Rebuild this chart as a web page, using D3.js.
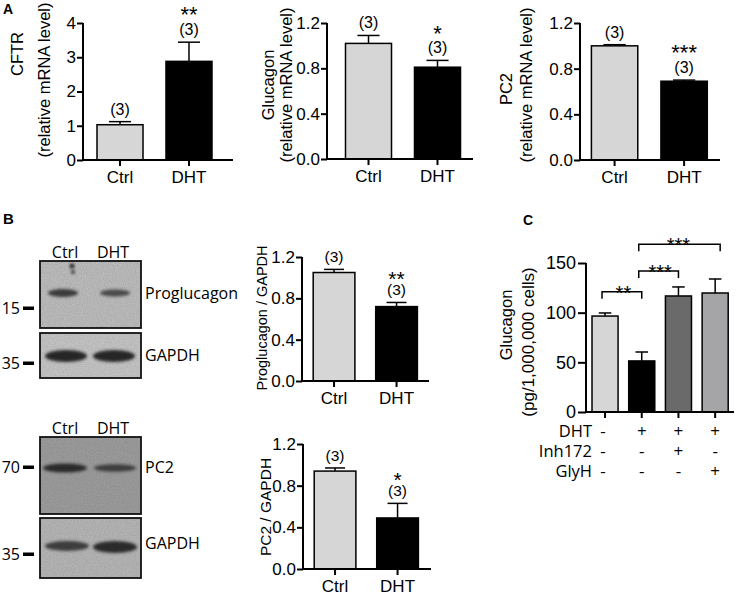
<!DOCTYPE html>
<html><head><meta charset="utf-8">
<script src="https://cdn.jsdelivr.net/npm/d3@7"></script>
<style>
body{margin:0;background:#fff}
svg text{font-family:"Liberation Sans",Arial,sans-serif;fill:#000}
</style>
</head><body>
<svg id="fig" width="737" height="596"></svg>
<script>
// ---------------- DATA ----------------
const groups = ["Ctrl", "DHT"];
const nLabels = ["(3)", "(3)"];
const cftrMean = [1.03, 2.88], cftrErr = [0.09, 0.56], cftrSig = ["", "**"];
const glucMean = [1.02, 0.81], glucErr = [0.07, 0.06], glucSig = ["", "*"];
const pc2Mean = [1.00, 0.69], pc2Err = [0.01, 0.01], pc2Sig = ["", "***"];
const proglucRatio = [1.05, 0.72], proglucRatioErr = [0.03, 0.04], proglucSig = ["", "**"];
const pc2Ratio = [0.94, 0.49], pc2RatioErr = [0.03, 0.14], pc2RatioSig = ["", "*"];
const ticksCftr = [0, 1, 2, 3, 4];
const ticksRel = [0, 0.4, 0.8, 1.2];

const cGroups = ["g1", "g2", "g3", "g4"];
const cMean = [96.6, 51.4, 116.8, 119.8];
const cErr = [3.1, 9.0, 9.1, 14.1];
const ticksC = [0, 50, 100, 150];
const cRowLabels = ["DHT", "Inh172", "GlyH"];
const cRowDHT = ["-", "+", "+", "+"];
const cRowInh = ["-", "-", "+", "-"];
const cRowGly = ["-", "-", "-", "+"];
const cBrackets = [
  {from: 0, to: 1, level: 121, label: "**"},
  {from: 1, to: 2, level: 142, label: "***"},
  {from: 1, to: 3, level: 169, label: "***"}
];

// ---------------- STYLE ----------------
const ctrlFill = "#d6d6d6";
const cFills = ["#d6d6d6", "#000000", "#6a6a6a", "#a5a5a8"];
const svg = d3.select("#fig");
svg.append("rect").attr("width", 737).attr("height", 596).attr("fill", "#fff");

const defs = svg.append("defs");
const blur = defs.append("filter").attr("id", "blur").attr("x", "-30%").attr("y", "-80%").attr("width", "160%").attr("height", "260%");
blur.append("feGaussianBlur").attr("stdDeviation", 1.6);
const noise = defs.append("filter").attr("id", "noise").attr("x", 0).attr("y", 0).attr("width", 1).attr("height", 1);
noise.append("feTurbulence").attr("type", "fractalNoise").attr("baseFrequency", 0.9).attr("numOctaves", 2).attr("seed", 4);
noise.append("feColorMatrix").attr("type", "matrix").attr("values", "0 0 0 0 0  0 0 0 0 0  0 0 0 0 0  0 0 0 0.35 0");

function barPanel(p) {
  const g = svg.append("g");
  const x = d3.scaleBand().domain(p.cats).range(p.band).paddingInner(p.pi ?? 0.333).paddingOuter(p.po ?? 0.2);
  const y = d3.scaleLinear().domain([0, p.yMax]).range([p.y0, p.y1]);
  const bw = x.bandwidth();
  const eb = g.selectAll("g.eb").data(p.means).join("g");
  eb.append("line")
    .attr("x1", (d, i) => x(p.cats[i]) + bw / 2).attr("x2", (d, i) => x(p.cats[i]) + bw / 2)
    .attr("y1", d => y(d)).attr("y2", (d, i) => y(d + p.errs[i]))
    .attr("stroke", "#000").attr("stroke-width", 1.5);
  eb.append("line")
    .attr("x1", (d, i) => x(p.cats[i]) + bw / 2 - bw * 0.24).attr("x2", (d, i) => x(p.cats[i]) + bw / 2 + bw * 0.24)
    .attr("y1", (d, i) => y(d + p.errs[i])).attr("y2", (d, i) => y(d + p.errs[i]))
    .attr("stroke", "#000").attr("stroke-width", 1.5);
  g.selectAll("rect.bar").data(p.means).join("rect").attr("class", "bar")
    .attr("x", (d, i) => x(p.cats[i])).attr("y", d => y(d))
    .attr("width", bw).attr("height", d => y(0) - y(d))
    .attr("fill", (d, i) => p.fills[i]).attr("stroke", "#000").attr("stroke-width", 1.5);
  const ya = g.append("g").attr("transform", `translate(${p.axisX},0)`)
    .call(d3.axisLeft(y).tickValues(p.ticks).tickFormat(p.fmt).tickSize(p.tickLen || 6).tickSizeOuter(0).tickPadding(p.tickPad ?? 1));
  ya.select(".domain").attr("stroke-width", 2).attr("d", `M0,${y(0) + 1}V${y(p.yMax)}`);
  ya.selectAll(".tick line").attr("stroke-width", 2);
  ya.selectAll(".tick text").attr("font-size", p.tickFont || 17).attr("font-family", '"Liberation Sans",Arial,sans-serif');
  g.append("line").attr("x1", p.axisX - 1).attr("x2", p.axisEnd).attr("y1", y(0)).attr("y2", y(0))
    .attr("stroke", "#000").attr("stroke-width", 2);
  const xa = g.append("g").attr("transform", `translate(0,${y(0)})`)
    .call(d3.axisBottom(x).tickSize(6).tickSizeOuter(0).tickPadding(5).tickFormat(p.xFmt || (d => d)));
  xa.select(".domain").remove();
  xa.selectAll(".tick line").attr("stroke-width", 2);
  xa.selectAll(".tick text").attr("font-size", 17).attr("font-family", '"Liberation Sans",Arial,sans-serif');
  if (p.nLab) {
    g.selectAll("text.n").data(p.means).join("text").attr("class", "n")
      .attr("x", (d, i) => x(p.cats[i]) + bw / 2).attr("y", (d, i) => y(d + p.errs[i]) - 7)
      .attr("text-anchor", "middle").attr("font-size", p.nFont || 16).text((d, i) => p.nLab[i]);
  }
  if (p.sig) {
    g.selectAll("text.sig").data(p.means).join("text").attr("class", "sig")
      .attr("x", (d, i) => x(p.cats[i]) + bw / 2).attr("y", (d, i) => y(d + p.errs[i]) - 7 - p.sigDy)
      .attr("text-anchor", "middle").attr("font-size", p.sigFont || 22).text((d, i) => p.sig[i]);
  }
  p.ylab.forEach(l => {
    g.append("text").attr("transform", `translate(${l.x},${l.y}) rotate(-90)`)
      .attr("text-anchor", "middle").attr("font-size", l.size).text(l.text);
  });
  return {x, y, g};
}

const fmt1 = d3.format(".1f");

// ---------------- PANEL A ----------------
barPanel({cats: groups, means: cftrMean, errs: cftrErr, nLab: nLabels, sig: cftrSig, sigDy: 13,
  fills: [ctrlFill, "#000"], band: [83.2, 225.8], axisX: 83, axisEnd: 233, y0: 160, y1: 23, yMax: 4,
  ticks: ticksCftr, fmt: d3.format("d"),
  ylab: [{x: 23, y: 54, size: 16.5, text: "CFTR"}, {x: 50, y: 80, size: 16.5, text: "(relative mRNA level)"}]});
barPanel({cats: groups, means: glucMean, errs: glucErr, nLab: nLabels, sig: glucSig, sigDy: 12,
  fills: [ctrlFill, "#000"], band: [331.7, 474.3], axisX: 327, axisEnd: 473, y0: 159, y1: 23, yMax: 1.2,
  ticks: ticksRel, fmt: fmt1,
  ylab: [{x: 274, y: 85, size: 16.5, text: "Glucagon"}, {x: 292, y: 85, size: 16.5, text: "(relative mRNA level)"}]});
barPanel({cats: groups, means: pc2Mean, errs: pc2Err, nLab: nLabels, sig: pc2Sig, sigDy: 13,
  fills: [ctrlFill, "#000"], band: [577.5, 721.2], axisX: 580, axisEnd: 720, y0: 160, y1: 23, yMax: 1.2,
  ticks: ticksRel, fmt: fmt1,
  ylab: [{x: 512, y: 89, size: 16.5, text: "PC2"}, {x: 532, y: 85, size: 16.5, text: "(relative mRNA level)"}]});

// ---------------- PANEL B charts ----------------
barPanel({cats: groups, means: proglucRatio, errs: proglucRatioErr, nLab: nLabels, sig: proglucSig, sigDy: 9,
  nFont: 15.5, sigFont: 21,
  fills: [ctrlFill, "#000"], band: [300.7, 429.9], axisX: 302, axisEnd: 429, y0: 381, y1: 257, yMax: 1.2,
  ticks: ticksRel, fmt: fmt1,
  ylab: [{x: 267, y: 318, size: 14.5, text: "Proglucagon / GAPDH"}]});
barPanel({cats: groups, means: pc2Ratio, errs: pc2RatioErr, nLab: nLabels, sig: pc2RatioSig, sigDy: 9,
  nFont: 15.5, sigFont: 21,
  fills: [ctrlFill, "#000"], band: [301.7, 430.9], axisX: 303, axisEnd: 431, y0: 569, y1: 444, yMax: 1.2,
  ticks: ticksRel, fmt: fmt1,
  ylab: [{x: 271, y: 507, size: 15.5, text: "PC2 / GAPDH"}]});

// ---------------- PANEL C ----------------
const pc = barPanel({cats: cGroups, means: cMean, errs: cErr, fills: cFills, pi: 0.29, po: 0.15,
  band: [586.5, 733.7], axisX: 586, axisEnd: 734, y0: 412, y1: 263, yMax: 150,
  ticks: ticksC, fmt: d3.format("d"), tickLen: 8, tickPad: 2, tickFont: 18, xFmt: () => "",
  ylab: [{x: 512, y: 325, size: 16.5, text: "Glucagon"}, {x: 534, y: 342, size: 17, text: "(pg/1,000,000 cells)"}]});
{
  const x = pc.x, y = pc.y, bw = x.bandwidth();
  const cx = i => x(cGroups[i]) + bw / 2;
  const bg = pc.g.selectAll("g.br").data(cBrackets).join("g");
  bg.append("path").attr("fill", "none").attr("stroke", "#000").attr("stroke-width", 1.5)
    .attr("d", d => `M${cx(d.from) - 3},${y(d.level) + 7}V${y(d.level)}H${cx(d.to) + (d.to === 3 ? 5 : 0)}V${y(d.level) + 7}`);
  bg.append("text").attr("x", d => (cx(d.from) + cx(d.to)) / 2).attr("y", d => y(d.level) + 8)
    .attr("text-anchor", "middle").attr("font-size", 20).text(d => d.label);
  const rows = [cRowDHT, cRowInh, cRowGly];
  const rowY = [437, 457, 477];
  rows.forEach((r, k) => {
    pc.g.append("text").attr("x", 592).attr("y", rowY[k]).attr("text-anchor", "end")
      .attr("font-size", 16.5).style("font-family", '"Open Sans",sans-serif').text(cRowLabels[k]);
    pc.g.selectAll(null).data(r).join("text").attr("x", (d, i) => cx(i) - (i === 0 ? 2 : 0)).attr("y", rowY[k])
      .attr("text-anchor", "middle").attr("font-size", 17).style("font-family", '"Open Sans",sans-serif').text(d => d);
  });
}

// ---------------- PANEL B blots ----------------
function blot(x0, y0, w, h, bgColor, bands) {
  const g = svg.append("g");
  g.append("rect").attr("x", x0).attr("y", y0).attr("width", w).attr("height", h).attr("fill", bgColor);
  g.append("rect").attr("x", x0).attr("y", y0).attr("width", w).attr("height", h).attr("filter", "url(#noise)").attr("opacity", 0.45);
  bands.forEach(b => {
    g.append("ellipse").attr("cx", b.cx).attr("cy", b.cy).attr("rx", b.rx).attr("ry", b.ry)
      .attr("fill", b.c).attr("filter", "url(#blur)");
  });
  g.append("rect").attr("x", x0).attr("y", y0).attr("width", w).attr("height", h)
    .attr("fill", "none").attr("stroke", "#111").attr("stroke-width", 1.8);
  return g;
}
const blotFont = '"Open Sans",sans-serif';
function bt(x, y, s, anchor, size) {
  svg.append("text").attr("x", x).attr("y", y).attr("text-anchor", anchor || "start")
    .attr("font-size", size || 16).style("font-family", blotFont).text(s);
}
function marker(y, label) {
  bt(20, y + 6, label, "end", 16);
  svg.append("rect").attr("x", 23).attr("y", y - 1.5).attr("width", 11).attr("height", 3.5).attr("fill", "#000");
}
blot(40, 261, 101, 67, "#c4c4c4", [
  {cx: 63, cy: 293, rx: 15, ry: 4, c: "#3a3a3a"},
  {cx: 115, cy: 293, rx: 15, ry: 3.6, c: "#4a4a4a"},
  {cx: 72, cy: 266, rx: 2.5, ry: 2.5, c: "#222"},
  {cx: 73, cy: 272, rx: 2, ry: 2, c: "#333"}
]);
blot(40, 333, 101, 45, "#cdcdcd", [
  {cx: 66, cy: 356, rx: 21, ry: 6, c: "#262626"},
  {cx: 114, cy: 356, rx: 21, ry: 6, c: "#262626"}
]);
bt(65, 258, "Ctrl", "middle"); bt(113, 258, "DHT", "middle");
bt(145, 299, "Proglucagon"); bt(145, 361, "GAPDH");
marker(308, "15"); marker(363, "35");
blot(40, 437, 101, 77, "#a3a3a3", [
  {cx: 65, cy: 468, rx: 22, ry: 4.5, c: "#2a2a2a"},
  {cx: 115, cy: 468, rx: 21, ry: 3.8, c: "#3c3c3c"}
]);
blot(40, 518, 101, 60, "#bdbdbd", [
  {cx: 67, cy: 546, rx: 22, ry: 5, c: "#3c3c3c"},
  {cx: 115, cy: 547, rx: 22, ry: 6, c: "#2a2a2a"}
]);
bt(65, 434, "Ctrl", "middle"); bt(113, 434, "DHT", "middle");
bt(145, 473, "PC2"); bt(145, 549, "GAPDH");
marker(467, "70"); marker(554, "35");

[["A", 3, 14, 14], ["B", 3, 224, 15], ["C", 523, 225, 14]].forEach(([s, x, y, f]) =>
  svg.append("text").attr("x", x).attr("y", y).attr("font-size", f).attr("font-weight", "bold").text(s));
</script>
</body></html>
